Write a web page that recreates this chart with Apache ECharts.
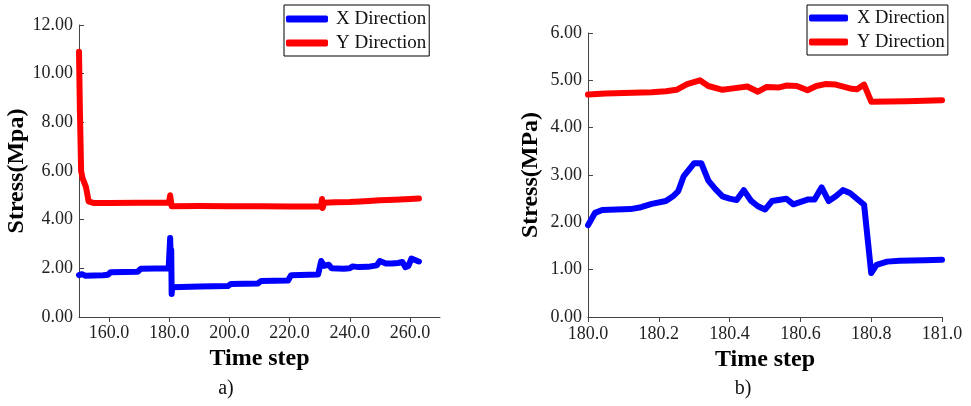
<!DOCTYPE html>
<html>
<head>
<meta charset="utf-8">
<script src="https://cdn.jsdelivr.net/npm/echarts@6/dist/echarts.min.js"></script>
<style>html,body{margin:0;padding:0;background:#fff}#c{width:971px;height:406px}</style>
</head>
<body>
<div id="c"></div>
<script>
// ---- Panel a) data ----
const aXTime   = [150,151,152,158,159.7,160.5,169.5,170.5,179.8,180.0,180.3,180.5,180.66,180.8,181.0,190,199.5,200.5,209.5,210.5,219.5,220.5,229.5,230.5,231.5,232,233,234,238,240,241,243,246,248,249,250,251,252,254,256,257.5,258.5,259.5,260.5,261.5,262.5,263];
const aXStress = [1.72,1.76,1.70,1.72,1.74,1.84,1.86,1.98,2.0,2.0,3.25,2.3,2.75,0.95,1.22,1.25,1.27,1.36,1.38,1.48,1.5,1.72,1.75,2.3,2.1,2.05,2.15,2.0,1.98,2.0,2.08,2.05,2.06,2.1,2.12,2.3,2.25,2.2,2.2,2.22,2.26,2.05,2.1,2.4,2.35,2.3,2.28];
const aYTime   = [150,150.3,150.7,151.2,152.3,153.2,155,160,170,179.9,180.3,180.5,180.8,190,200,210,220,230.5,230.8,231,231.5,235,240,245,250,255,260,263];
const aYStress = [10.9,8.5,6.0,5.7,5.35,4.75,4.68,4.68,4.7,4.7,5.0,4.82,4.55,4.56,4.55,4.55,4.54,4.55,4.85,4.48,4.7,4.72,4.73,4.76,4.8,4.82,4.85,4.87];
const aXTicks  = [160,180,200,220,240,260];

// ---- Panel b) data ----
const bXTime   = [180.00,180.02,180.04,180.08,180.12,180.15,180.18,180.22,180.24,180.255,180.27,180.30,180.32,180.34,180.36,180.38,180.40,180.42,180.44,180.46,180.48,180.50,180.52,180.56,180.58,180.62,180.64,180.66,180.68,180.70,180.72,180.74,180.78,180.80,180.815,180.845,180.88,180.95,181.00];
const bXStress = [1.94,2.20,2.26,2.27,2.28,2.32,2.39,2.45,2.55,2.66,2.97,3.25,3.25,2.88,2.70,2.55,2.50,2.47,2.68,2.46,2.34,2.27,2.45,2.50,2.38,2.48,2.48,2.74,2.45,2.55,2.68,2.62,2.37,0.93,1.10,1.17,1.19,1.20,1.21];
const bYTime   = [180.00,180.05,180.10,180.18,180.22,180.25,180.28,180.316,180.34,180.38,180.41,180.45,180.48,180.505,180.54,180.56,180.59,180.62,180.645,180.67,180.70,180.745,180.76,180.78,180.80,180.90,181.00];
const bYStress = [4.70,4.72,4.73,4.75,4.77,4.80,4.92,5.00,4.88,4.80,4.83,4.87,4.76,4.86,4.85,4.89,4.88,4.79,4.88,4.92,4.91,4.82,4.81,4.91,4.55,4.56,4.58];

const seriesNames = ['X Direction','Y Direction'];
const panelLabels = ['a)','b)'];
const yNames = ['Stress(Mpa)','Stress(MPa)'];
const xName = 'Time step';

const FONT = "'Liberation Serif','Times New Roman',serif";
const BLUE = '#0000ff', RED = '#ff0000';
const zip = (a,b)=>a.map((v,i)=>[v,b[i]]);

const axisLineStyle = {lineStyle:{color:'#444',width:1}};
const lineStyleOf = c => ({color:c,width:6,cap:'round',join:'round'});

const chart = echarts.init(document.getElementById('c'), null, {renderer:'canvas'});
chart.setOption({
  animation:false,
  backgroundColor:'#fff',
  grid:[
    {left:79, top:25, width:361, height:292},
    {left:588, top:33, width:354, height:284}
  ],
  xAxis:[
    {type:'value', gridIndex:0, min:150, max:270,
     name:xName, nameLocation:'middle', nameGap:28,
     nameTextStyle:{fontFamily:FONT,fontSize:24,fontWeight:'bold',color:'#000'},
     axisLine:axisLineStyle, splitLine:{show:false},
     axisTick:{show:true,length:5,inside:false,customValues:aXTicks,lineStyle:{color:'#444'}},
     axisLabel:{customValues:aXTicks, margin:7, fontFamily:FONT, fontSize:18, color:'#222', formatter:v=>v.toFixed(1)}},
    {type:'value', gridIndex:1, min:180, max:181, interval:0.2,
     name:xName, nameLocation:'middle', nameGap:30,
     nameTextStyle:{fontFamily:FONT,fontSize:24,fontWeight:'bold',color:'#000'},
     axisLine:axisLineStyle, splitLine:{show:false},
     axisTick:{show:true,length:5,inside:false,lineStyle:{color:'#444'}},
     axisLabel:{margin:8, fontFamily:FONT, fontSize:18, color:'#222', formatter:v=>v.toFixed(1)}}
  ],
  yAxis:[
    {type:'value', gridIndex:0, min:0, max:12, interval:2,
     name:yNames[0], nameLocation:'middle', nameGap:48,
     nameTextStyle:{fontFamily:FONT,fontSize:24,fontWeight:'bold',color:'#000'},
     axisLine:{show:true,lineStyle:{color:'#444',width:1}}, splitLine:{show:false},
     axisTick:{show:true,length:5,inside:true,lineStyle:{color:'#444'}},
     axisLabel:{margin:6, fontFamily:FONT, fontSize:18, color:'#222', formatter:v=>v.toFixed(2)}},
    {type:'value', gridIndex:1, min:0, max:6, interval:1,
     name:yNames[1], nameLocation:'middle', nameGap:45,
     nameTextStyle:{fontFamily:FONT,fontSize:24,fontWeight:'bold',color:'#000'},
     axisLine:{show:true,lineStyle:{color:'#444',width:1}}, splitLine:{show:false},
     axisTick:{show:true,length:5,inside:true,lineStyle:{color:'#444'}},
     axisLabel:{margin:6, fontFamily:FONT, fontSize:18, color:'#222', formatter:v=>v.toFixed(2)}}
  ],
  legend:[
    {left:284, top:5, orient:'vertical', data:seriesNames, icon:'roundRect',
     itemWidth:42, itemHeight:7, itemGap:4, padding:[4,3,3,2],
     borderColor:'#000', borderWidth:1, selectedMode:false,
     textStyle:{fontFamily:FONT,fontSize:19,color:'#111',lineHeight:20,padding:[0,0,0,3]}},
    {left:807, top:5, orient:'vertical', data:seriesNames, icon:'roundRect',
     itemWidth:39, itemHeight:7, itemGap:4, padding:[3,3,3,2],
     borderColor:'#000', borderWidth:1, selectedMode:false,
     textStyle:{fontFamily:FONT,fontSize:18.5,color:'#111',lineHeight:20,padding:[0,0,0,4]}}
  ],
  graphic:[
    {type:'text', x:226, y:389, style:{text:panelLabels[0],fontFamily:FONT,fontSize:20,fill:'#111',textAlign:'center',textVerticalAlign:'middle'}},
    {type:'text', x:743, y:389, style:{text:panelLabels[1],fontFamily:FONT,fontSize:20,fill:'#111',textAlign:'center',textVerticalAlign:'middle'}}
  ],
  series:[
    {name:seriesNames[0], type:'line', xAxisIndex:0, yAxisIndex:0, data:zip(aXTime,aXStress), showSymbol:false, symbol:'none', color:BLUE, lineStyle:lineStyleOf(BLUE), z:3},
    {name:seriesNames[1], type:'line', xAxisIndex:0, yAxisIndex:0, data:zip(aYTime,aYStress), showSymbol:false, symbol:'none', color:RED, lineStyle:lineStyleOf(RED), z:2},
    {name:seriesNames[0], type:'line', xAxisIndex:1, yAxisIndex:1, data:zip(bXTime,bXStress), showSymbol:false, symbol:'none', color:BLUE, lineStyle:lineStyleOf(BLUE), z:3},
    {name:seriesNames[1], type:'line', xAxisIndex:1, yAxisIndex:1, data:zip(bYTime,bYStress), showSymbol:false, symbol:'none', color:RED, lineStyle:lineStyleOf(RED), z:2}
  ]
});
</script>
</body>
</html>
